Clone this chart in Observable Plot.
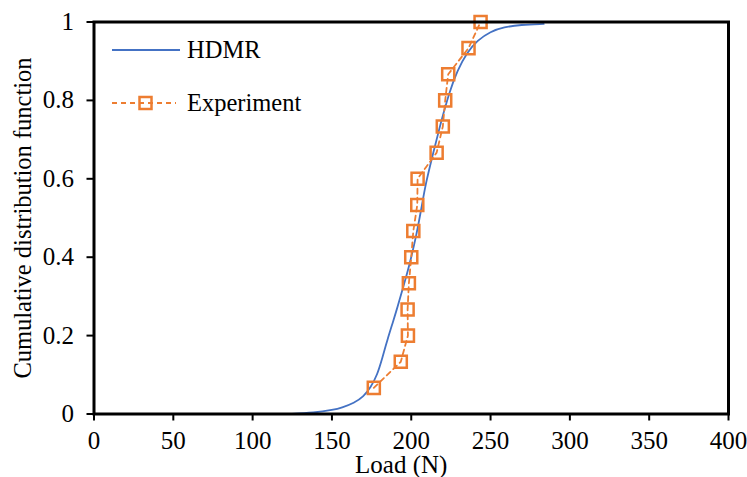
<!DOCTYPE html>
<html>
<head>
<meta charset="utf-8">
<script src="https://cdn.jsdelivr.net/npm/d3@7"></script>
<script src="https://cdn.jsdelivr.net/npm/@observablehq/plot@0.6"></script>
<style>
  html, body { margin: 0; padding: 0; background: #fff; }
  #wrap { position: relative; width: 747px; height: 477px; }
  .leg { position: absolute; font-family: "Liberation Serif", "Times New Roman", serif; font-size: 24.5px; color: #000; line-height: 1; }
  .leg svg { position: absolute; overflow: visible; }
</style>
</head>
<body>
<div id="wrap"></div>
<script>
// HDMR CDF curve
const hdmrLoad = [122, 139, 151, 156, 164, 170, 174.3, 178.6, 181.7, 185, 188.5, 191.5, 194.5, 197.5, 200, 203, 206, 209, 213.5, 217.5, 220.5, 224, 229, 235.3, 241.6, 250, 258.4, 269, 283.5];
const hdmrCdf  = [0, 0.003, 0.011, 0.016, 0.028, 0.045, 0.067, 0.1, 0.142, 0.19, 0.235, 0.275, 0.318, 0.36, 0.4, 0.452, 0.515, 0.587, 0.66, 0.725, 0.77, 0.82, 0.876, 0.923, 0.953, 0.976, 0.987, 0.993, 0.995];
// Experiment points
const expLoad = [176.4, 193.4, 197.9, 197.7, 198.5, 200.0, 201.3, 203.8, 204.0, 216.0, 219.9, 221.4, 223.3, 236.1, 243.7];
const expCdf  = [0.0667, 0.1333, 0.2, 0.2667, 0.3333, 0.4, 0.4667, 0.5333, 0.6, 0.6667, 0.7333, 0.8, 0.8667, 0.9333, 1.0];
// Axis ticks and labels
const xTicks = [0, 50, 100, 150, 200, 250, 300, 350, 400];
const yTicks = [0, 0.2, 0.4, 0.6, 0.8, 1];
const xTitle = "Load (N)";
const yTitle = "Cumulative distribution function";
const seriesNames = ["HDMR", "Experiment"];
const colors = ["#4472C4", "#ED7D31"];

const serif = "Liberation Serif";
const hdmr = hdmrLoad.map((x, i) => ({x, y: hdmrCdf[i]}));
const exp = expLoad.map((x, i) => ({x, y: expCdf[i]}));

const chart = Plot.plot({
  width: 747,
  height: 477,
  marginLeft: 93.5,
  marginRight: 19,
  marginTop: 21.5,
  marginBottom: 63.5,
  style: { fontFamily: serif, fontSize: "25px", color: "#000", background: "#fff" },
  x: { domain: [0, 400] },
  y: { domain: [0, 1] },
  marks: [
    Plot.line(hdmr, { x: "x", y: "y", stroke: colors[0], strokeWidth: 1.8, curve: "basis" }),
    Plot.line(exp, { x: "x", y: "y", stroke: colors[1], strokeWidth: 1.8, strokeDasharray: "5 4" }),
    Plot.dot(exp, { x: "x", y: "y", symbol: "square", r: 6.8, stroke: colors[1], strokeWidth: 2.5, fill: "none" }),
    Plot.axisX({ ticks: xTicks, tickSize: 7, tickPadding: 10, strokeWidth: 2, fontSize: 25, fontFamily: serif, tickFormat: d => String(d), label: null }),
    Plot.axisY({ ticks: yTicks, tickSize: 7, tickPadding: 13, strokeWidth: 2, fontSize: 25, fontFamily: serif, tickFormat: d => String(d), label: null }),
    Plot.text([xTitle], { text: d => d, frameAnchor: "bottom", textAnchor: "middle", dx: -10, dy: 50.5, lineAnchor: "middle", fontSize: 25, fontFamily: serif, fill: "#000" }),
    Plot.text([yTitle], { text: d => d, frameAnchor: "left", textAnchor: "middle", dx: -70.5, rotate: -90, lineAnchor: "middle", fontSize: 24.5, fontFamily: serif, fill: "#000" }),
    Plot.frame({ stroke: "#000", strokeWidth: 3 })
  ]
});

const wrap = document.getElementById("wrap");
wrap.appendChild(chart);

// Legend overlay inside the plot area
function addLegend(name, color, top, withMarker) {
  const div = document.createElement("div");
  div.className = "leg";
  div.style.left = "112px";
  div.style.top = (top - 12) + "px";
  div.style.width = "250px";
  div.style.height = "24px";
  const ns = "http://www.w3.org/2000/svg";
  const svg = document.createElementNS(ns, "svg");
  svg.setAttribute("width", "70");
  svg.setAttribute("height", "24");
  svg.style.left = "0px";
  svg.style.top = "0px";
  const line = document.createElementNS(ns, "line");
  line.setAttribute("x1", 0); line.setAttribute("x2", withMarker ? 64 : 68);
  line.setAttribute("y1", 12); line.setAttribute("y2", 12);
  line.setAttribute("stroke", color);
  line.setAttribute("stroke-width", 1.8);
  if (withMarker) line.setAttribute("stroke-dasharray", "5 4");
  svg.appendChild(line);
  if (withMarker) {
    const r = document.createElementNS(ns, "rect");
    r.setAttribute("x", 27.5); r.setAttribute("y", 6);
    r.setAttribute("width", 12); r.setAttribute("height", 12);
    r.setAttribute("fill", "none"); r.setAttribute("stroke", color); r.setAttribute("stroke-width", 2.5);
    svg.appendChild(r);
  }
  div.appendChild(svg);
  const span = document.createElement("span");
  span.textContent = name;
  span.style.position = "absolute";
  span.style.left = "75px";
  span.style.top = "0px";
  div.appendChild(span);
  wrap.appendChild(div);
}
addLegend(seriesNames[0], colors[0], 49.5, false);
addLegend(seriesNames[1], colors[1], 103, true);
</script>
</body>
</html>
